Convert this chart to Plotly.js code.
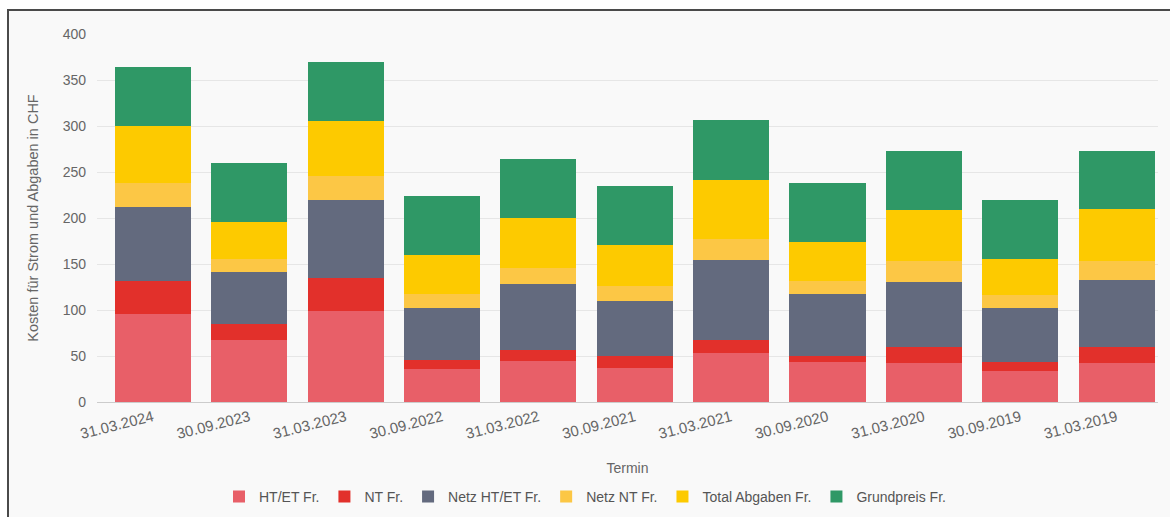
<!DOCTYPE html>
<html>
<head>
<meta charset="utf-8">
<script src="https://cdn.plot.ly/plotly-3.0.1.min.js"></script>
<style>
  html, body { margin: 0; padding: 0; background: #ffffff; }
  #frame { position: absolute; left: 7px; top: 9px; width: 1170px; height: 520px;
           border-left: 2px solid #4a4a4a; border-top: 2px solid #4a4a4a; background: #f9f9f9; }
  #chart { position: absolute; left: 0; top: 0; width: 1170px; height: 517px; }
</style>
</head>
<body>
<div id="frame"></div>
<div id="chart"></div>
<script>
const categories = ["31.03.2024", "30.09.2023", "31.03.2023", "30.09.2022", "31.03.2022", "30.09.2021",
                    "31.03.2021", "30.09.2020", "31.03.2020", "30.09.2019", "31.03.2019"];
const htEt        = [95.6, 67.7, 99.2, 35.9, 44.1, 37.0, 53.3, 43.1, 42.4, 34.0, 42.4];
const nt          = [36.2, 17.1, 35.6, 10.1, 12.7, 12.6, 14.4,  7.2, 16.9,  9.5, 16.9];
const netzHtEt    = [80.2, 56.1, 84.3, 56.2, 71.8, 59.7, 87.0, 67.4, 70.7, 58.7, 72.9];
const netzNt      = [26.4, 14.5, 26.1, 15.2, 17.1, 16.9, 23.0, 13.4, 22.8, 14.4, 20.6];
const totalAbgaben= [61.3, 40.3, 60.6, 41.9, 54.3, 44.6, 63.9, 42.8, 56.2, 39.2, 57.0];
const grundpreis  = [64.0, 64.1, 63.8, 64.2, 64.1, 64.4, 64.5, 64.1, 63.4, 63.3, 62.6];

const seriesNames = ["HT/ET Fr.", "NT Fr.", "Netz HT/ET Fr.", "Netz NT Fr.", "Total Abgaben Fr.", "Grundpreis Fr."];
const seriesValues = [htEt, nt, netzHtEt, netzNt, totalAbgaben, grundpreis];
const seriesColors = ["#e85f68", "#e2302b", "#636a7e", "#fcc745", "#fdca00", "#2f9866"];

const traces = seriesNames.map((name, i) => ({
  type: "bar",
  name: name,
  x: categories,
  y: seriesValues[i],
  marker: { color: seriesColors[i], line: { width: 0 } },
  hoverinfo: "x+y+name"
}));

const fontFamily = "'Liberation Sans', Arial, sans-serif";

const layout = {
  width: 1170,
  height: 517,
  barmode: "stack",
  bargap: 0.21,
  paper_bgcolor: "rgba(0,0,0,0)",
  plot_bgcolor: "rgba(0,0,0,0)",
  margin: { l: 97, r: 12, t: 34, b: 115, autoexpand: false },
  font: { family: fontFamily, size: 14, color: "#666666" },
  xaxis: {
    type: "category",
    range: [-0.58, 10.43],
    tickangle: -14,
    showgrid: false,
    showline: true,
    linecolor: "#cccccc",
    linewidth: 1,
    ticks: "",
    tickfont: { family: fontFamily, size: 15, color: "#666666" },
    automargin: false,
    title: { text: "Termin", font: { family: fontFamily, size: 14, color: "#666666" }, standoff: 22 }
  },
  yaxis: {
    range: [0, 400],
    tickvals: [0, 50, 100, 150, 200, 250, 300, 350, 400],
    gridcolor: "#e6e6e6",
    gridwidth: 1,
    zeroline: false,
    showline: false,
    ticks: "",
    ticklen: 0,
    ticklabelstandoff: 10,
    tickfont: { family: fontFamily, size: 14, color: "#666666" },
    automargin: false,
    title: { text: "Kosten für Strom und Abgaben in CHF", font: { family: fontFamily, size: 14.5, color: "#666666" }, standoff: 20 }
  },
  legend: {
    orientation: "h",
    x: 0.5,
    xanchor: "center",
    xref: "container",
    y: 0.039,
    yanchor: "middle",
    yref: "container",
    font: { family: fontFamily, size: 14, color: "#555555" },
    traceorder: "normal",
    itemwidth: 30,
    bgcolor: "rgba(0,0,0,0)"
  },
  showlegend: true
};

Plotly.newPlot("chart", traces, layout, { displayModeBar: false, staticPlot: true });
</script>
</body>
</html>
